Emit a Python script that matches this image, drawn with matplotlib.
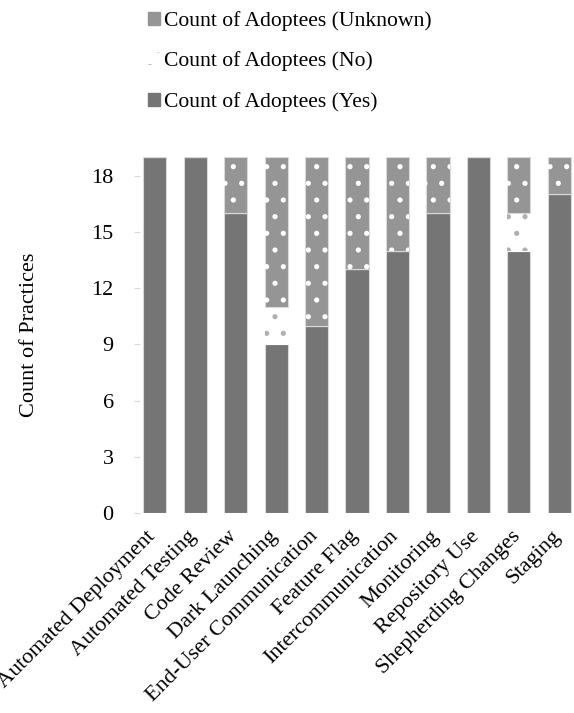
import matplotlib

matplotlib.use("Agg")
import matplotlib.pyplot as plt  # noqa: E402
from matplotlib.patches import Patch  # noqa: E402

practices = [
    "Automated Deployment", "Automated Testing", "Code Review",
    "Dark Launching", "End-User Communication", "Feature Flag",
    "Intercommunication", "Monitoring", "Repository Use",
    "Shepherding Changes", "Staging",
]
yes_counts = [19, 19, 16, 9, 10, 13, 14, 16, 19, 14, 17]
no_counts = [0, 0, 0, 2, 0, 0, 0, 0, 0, 2, 0]
unknown_counts = [0, 0, 3, 8, 9, 6, 5, 3, 0, 3, 2]
y_ticks = [0, 3, 6, 9, 12, 15, 18]

plt.rcParams["font.family"] = ["Liberation Serif", "DejaVu Serif"]
plt.rcParams["hatch.linewidth"] = 1.3

yes_col, unk_col, edge_col = "#757575", "#959595", "#d9d9d9"

fig = plt.figure(figsize=(5.74, 7.13), dpi=100)
ax = fig.add_axes([0.244, 0.2805, 0.756, 0.4995])

x = list(range(len(practices)))
w = 0.57
no_bottom = yes_counts
unk_bottom = [a + b for a, b in zip(yes_counts, no_counts)]

ax.bar(x, yes_counts, w, color=yes_col, edgecolor=edge_col, linewidth=0.8)
ax.bar(x, no_counts, w, bottom=no_bottom, color="white", edgecolor="white",
       linewidth=0.8)
ax.bar(x, no_counts, w, bottom=no_bottom, fill=False, hatch=".",
       edgecolor="#b0b0b0", linewidth=0)
ax.bar(x, unknown_counts, w, bottom=unk_bottom, color=unk_col,
       edgecolor=edge_col, linewidth=0.8)
ax.bar(x, unknown_counts, w, bottom=unk_bottom, fill=False, hatch=".",
       edgecolor="white", linewidth=0)

ax.set_xlim(-0.36, 10.36)
ax.set_ylim(0, 19)
ax.set_yticks(y_ticks)
ax.set_xticks(x)
ax.tick_params(axis="x", length=0, labelbottom=False)
# slanted category labels, placed a little down-left of each bar centre
for xi, name in zip(x, practices):
    ax.annotate(name, xy=(xi, 0), xycoords=("data", "axes fraction"),
                xytext=(-6, -10), textcoords="offset points", fontsize=16,
                rotation=45, ha="right", va="top", rotation_mode="anchor",
                annotation_clip=False)
ax.tick_params(axis="y", labelsize=16, length=4, color=edge_col, pad=15)
for s in ax.spines.values():
    s.set_visible(False)
ax.set_ylabel("Count of Practices", fontsize=16, labelpad=38)

handles = [
    Patch(facecolor=unk_col, edgecolor=unk_col, label="Count of Adoptees (Unknown)"),
    Patch(facecolor="white", edgecolor="#b0b0b0", hatch=".", linewidth=0,
          label="Count of Adoptees (No)"),
    Patch(facecolor=yes_col, edgecolor=yes_col, label="Count of Adoptees (Yes)"),
]
fig.legend(handles=handles, loc="upper left", bbox_to_anchor=(0.224, 1.012),
           frameon=False, fontsize=15.6, labelspacing=0.95, handlelength=0.55,
           handleheight=0.55, handletextpad=0.2)

fig.savefig("out.png", dpi=100)
